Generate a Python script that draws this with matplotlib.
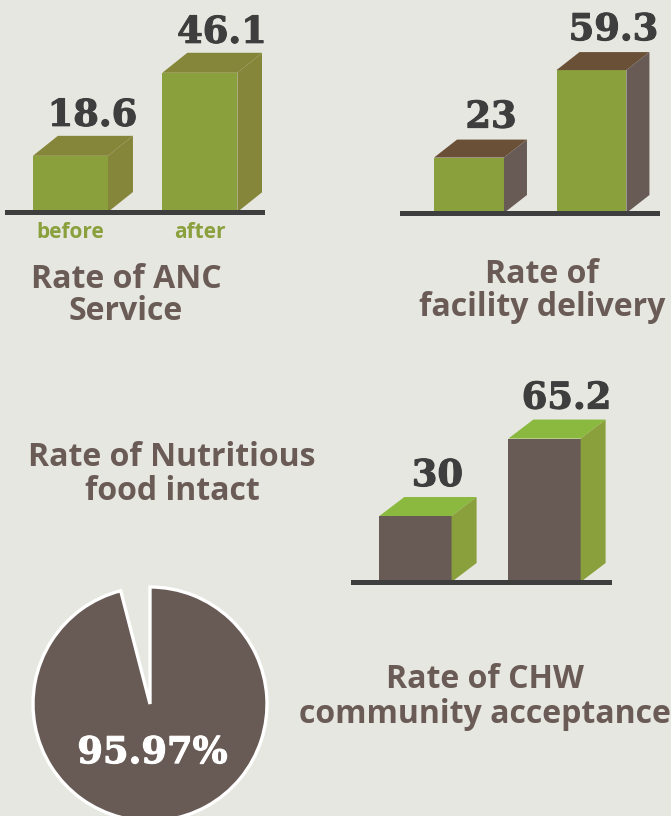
import matplotlib
matplotlib.use("Agg")
import matplotlib.pyplot as plt
from matplotlib.patches import Polygon
import matplotlib.patheffects as pe

# ---------------- data ----------------
anc_categories = ["before", "after"]
anc_values = [18.6, 46.1]
facility_values = [23, 59.3]
chw_values = [30, 65.2]
nutrition_values = [95.97, 4.03]
nutrition_label = "95.97%"

title_anc = ["Rate of ANC", "Service"]
title_facility = ["Rate of", "facility delivery"]
title_nutrition = ["Rate of Nutritious", "food intact"]
title_chw = ["Rate of CHW", "community acceptance"]

# ---------------- style ----------------
BG = "#E6E7E0"
TXT = "#6A5B56"
DARK = "#3E3E3E"
GREEN = "#8AA03C"
OLIVE = "#86863A"
LIME = "#8BB940"
BROWN_TOP = "#6B5038"
TAUPE = "#685A55"

W, H = 671, 816
fig = plt.figure(figsize=(W / 100, H / 100), dpi=100, facecolor=BG)

SANS = ["Open Sans", "DejaVu Sans"]
SERIF = ["DejaVu Serif", "Liberation Serif"]
NUM_SIZE = 26.5


def px_axes(left, top, right, bottom):
    ax = fig.add_axes([left / W, 1 - bottom / H, (right - left) / W, (bottom - top) / H])
    ax.set_facecolor("none")
    return ax


def bar3d(ax, values, xlim, ylim, width, depth_px, front, top, side,
          label_off=(22, 30)):
    ax.set_xlim(*xlim)
    ax.set_ylim(*ylim)
    for s in ax.spines.values():
        s.set_visible(False)
    ax.tick_params(length=0)
    ax.set_yticks([])
    pos = ax.get_position()
    ppx = pos.width * W / (xlim[1] - xlim[0])
    ppy = pos.height * H / (ylim[1] - ylim[0])
    dx = depth_px[0] / ppx
    dy = depth_px[1] / ppy
    xs = list(range(len(values)))
    ax.bar(xs, values, width, color=front, zorder=2, linewidth=0)
    for x, v in zip(xs, values):
        l, r = x - width / 2, x + width / 2
        ax.add_patch(Polygon([(l, v), (r, v), (r + dx, v + dy), (l + dx, v + dy)],
                             closed=True, facecolor=top, edgecolor="none", zorder=2))
        ax.add_patch(Polygon([(r, 0), (r + dx, dy), (r + dx, v + dy), (r, v)],
                             closed=True, facecolor=side, edgecolor="none", zorder=2))
        ax.annotate(f"{v:g}", xy=(x, v), xytext=label_off, textcoords="offset pixels",
                    ha="center", va="baseline", fontsize=NUM_SIZE, fontweight="bold",
                    family=SERIF, color=DARK, annotation_clip=False,
                    path_effects=[pe.withStroke(linewidth=0.8, foreground=DARK)])
    ax.axhline(0, color=DARK, lw=3.6, zorder=5, clip_on=False)
    return xs


# Chart 1: ANC
ax1 = px_axes(7, 0, 262, 212)
xs = bar3d(ax1, anc_values, (-0.49, 1.48), (0, 212 / 3.02), 0.58, (25, 20),
           GREEN, OLIVE, OLIVE)
ax1.set_xticks(xs)
ax1.set_xticklabels(anc_categories, color=GREEN, fontsize=15, fontweight="bold",
                    family=SANS)
ax1.tick_params(axis="x", pad=7)

# Chart 2: facility delivery
ax2 = px_axes(402, 0, 657, 213)
bar3d(ax2, facility_values, (-0.547, 1.535), (0, 213 / 2.41), 0.571, (23, 18),
      GREEN, BROWN_TOP, TAUPE)
ax2.set_xticks([])

# Chart 3: CHW
ax3 = px_axes(353, 380, 609, 582)
bar3d(ax3, chw_values, (-0.484, 1.5), (0, 202 / 2.2), 0.56, (25, 19),
      TAUPE, LIME, GREEN)
ax3.set_xticks([])

# Pie: nutrition
axp = px_axes(33, 587, 267, 821)
axp.axis("off")
wedges, _ = axp.pie(nutrition_values, startangle=90, counterclock=False, radius=1,
                    colors=[TAUPE, "none"],
                    wedgeprops=dict(edgecolor="white", linewidth=2.4))
wedges[1].set_edgecolor("none")
axp.set_xlim(-1, 1)
axp.set_ylim(-1, 1)
axp.text(0.02, -0.505, nutrition_label, ha="center", va="baseline", color="white",
         fontsize=NUM_SIZE, fontweight="bold", family=SERIF,
         path_effects=[pe.withStroke(linewidth=0.8, foreground="white")])

# Titles (each line placed on its own baseline)
tkw = dict(ha="center", va="baseline", color=TXT, fontsize=23, fontweight="bold",
           family=SANS)


def title(lines, cx, base0, step=33):
    for i, line in enumerate(lines):
        fig.text(cx / W, 1 - (base0 + i * step) / H, line, **tkw)


title(title_anc, 126, 288, 32)
title(title_facility, 542, 283, 33)
title(title_nutrition, 172, 466, 34)
title(title_chw, 485, 688, 35)

fig.savefig("out.png", dpi=100, facecolor=BG)
